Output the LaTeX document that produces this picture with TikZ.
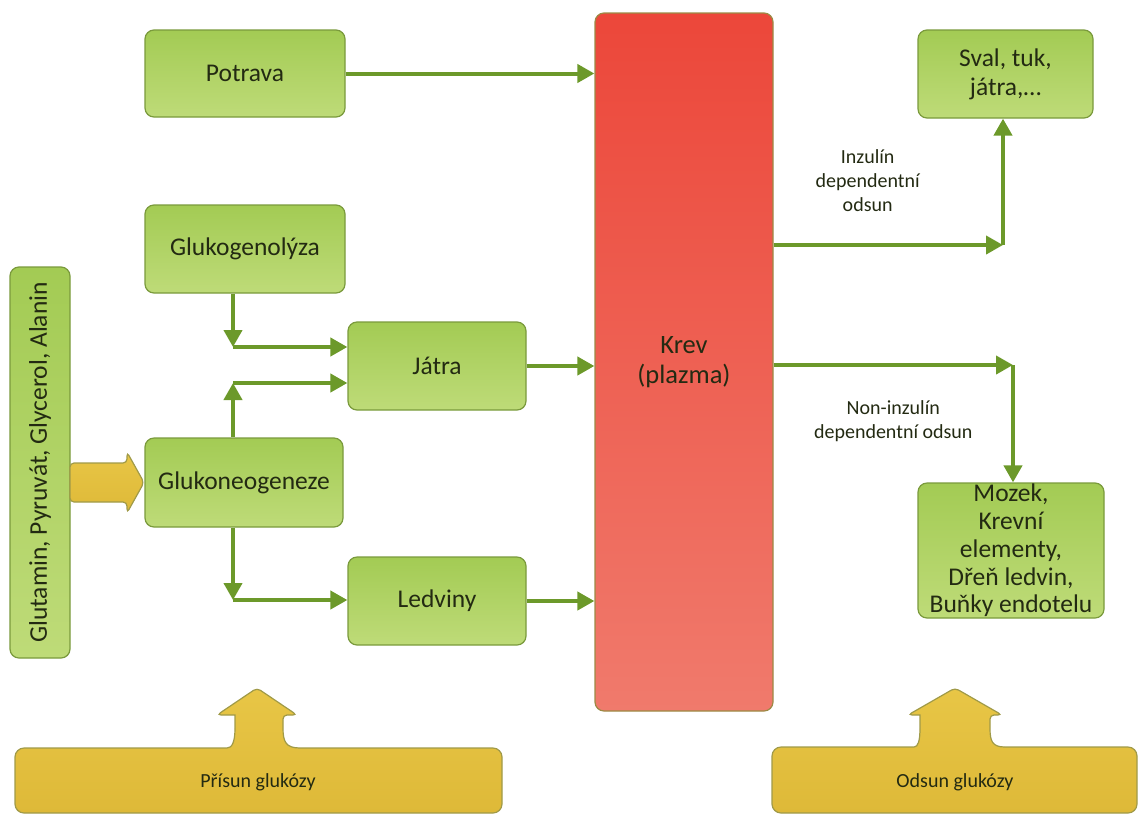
\documentclass[tikz,border=0pt]{standalone}
\usepackage{fontspec}
\setmainfont{Carlito}
\usetikzlibrary{positioning,calc,arrows.meta}

\definecolor{boxtop}{HTML}{A3CB54}
\definecolor{boxbottom}{HTML}{BEDB78}
\definecolor{boxline}{HTML}{7A9A3C}
\definecolor{flowgreen}{HTML}{6C992A}
\definecolor{krevtop}{HTML}{EC473A}
\definecolor{krevbottom}{HTML}{F07A6C}
\definecolor{krevline}{HTML}{9C8A45}
\definecolor{supplytop}{HTML}{E8C646}
\definecolor{supplybottom}{HTML}{DEB938}
\definecolor{supplyline}{HTML}{A09A48}
\definecolor{txt}{HTML}{232A12}

\begin{document}
\begin{tikzpicture}[
     x=1pt, y=-1pt,
     % define styles
     box/.style={
         draw=boxline,
         line width=1.2pt,
         rounded corners=9pt,
         top color=boxtop,
         bottom color=boxbottom,
         text=txt,
         align=center,
         inner sep=0pt,
         font=\fontsize{25.5}{29}\selectfont
     },
     krevbox/.style={
         box,
         draw=krevline,
         top color=krevtop,
         bottom color=krevbottom,
         font=\fontsize{26.5}{30}\selectfont
     },
     flow/.style={
         ->,
         draw=flowgreen,
         line width=4pt
     },
     note/.style={
         text=txt,
         align=center,
         font=\fontsize{20}{24}\selectfont
     },
     supply/.style={
         draw=supplyline,
         line width=1.2pt,
         top color=supplytop,
         bottom color=supplybottom
     },
     >={Triangle[length=17pt,width=18pt]}
]
\useasboundingbox (0,0) rectangle (1140,815);

% sources of glucose
\node[box, minimum width=200pt, minimum height=87pt] (potrava) at (245,73.5) {Potrava};
\node[box, minimum width=200pt, minimum height=88pt] (glukogenolyza) at (245,249) {Glukogenolýza};
\node[box, minimum width=178pt, minimum height=88pt] (jatra) at (437,366) {Játra};
\node[box, minimum width=198pt, minimum height=89pt] (glukoneo) at (244,482.5) {Glukoneogeneze};
\node[box, minimum width=178pt, minimum height=88pt] (ledviny) at (437,601) {Ledviny};
\node[box, rotate=90, minimum width=391pt, minimum height=60pt] (substraty) at (40,462.5) {Glutamin, Pyruvát, Glycerol, Alanin};

% blood
\node[krevbox, minimum width=178pt, minimum height=698pt] (krev) at (684,362) {Krev\\(plazma)};

% targets
\node[box, minimum width=175pt, minimum height=88pt] (sval) at (1005.5,74) {Sval, tuk,\\játra,…};
\node[box, minimum width=186pt, minimum height=135pt, font=\fontsize{25.5}{27.8}\selectfont] (mozek) at (1011,550.5)
     {Mozek,\\Krevní\\elementy,\\Dřeň ledvin,\\Buňky endotelu};

% yellow arrow into glukoneogeneze
\draw[supply, rounded corners=4pt] (70,463) -- (127,463) -- (127,452) -- (144,482.5) -- (127,513) -- (127,502) -- (70,502) -- cycle;

% corners of the bent connectors
\coordinate (kA) at (233,347);
\coordinate (kB) at (233,383);
\coordinate (kC) at (233,600);
\coordinate (kD) at (1003,245);
\coordinate (kE) at (1013,365);

\draw[flow] (potrava.east) -- (potrava.east -| krev.west);
\draw[flow] (kA |- glukogenolyza.south) -- (kA);
\draw[flow] (kA) -- (kA -| jatra.west);
\draw[flow] (kB |- glukoneo.north) -- (kB);
\draw[flow] (kB) -- (kB -| jatra.west);
\draw[flow] (kC |- glukoneo.south) -- (kC);
\draw[flow] (kC) -- (kC -| ledviny.west);
\draw[flow] (jatra.east) -- (jatra.east -| krev.west);
\draw[flow] (ledviny.east) -- (ledviny.east -| krev.west);

\draw[flow] (kD -| krev.east) -- node[note, pos=.41, above=28pt] (inzulin) {Inzulín\\dependentní\\odsun} (kD);
\draw[flow] (kD) -- (kD |- sval.south);
\draw[flow] (kE -| krev.east) -- node[note, pos=.5, below=30pt] (noninzulin) {Non-inzulín\\dependentní odsun} (kE);
\draw[flow] (kE) -- (kE |- mozek.north);

% supply and removal
\draw[supply] (15,780) [rounded corners=9pt] -- (15,748) -- (218,748) [sharp corners]
     .. controls (232,748) and (235,742) .. (235,728) -- (235,715) [rounded corners=4pt]
     -- (217,715) -- (257,688) -- (297,715) -- (283,715) [sharp corners] -- (283,728)
     .. controls (283,742) and (286,748) .. (300,748) [rounded corners=9pt]
     -- (502,748) -- (502,813) -- (15,813) -- cycle;
\node[note] (prisun) at (258,782) {Přísun glukózy};

\draw[supply] (772,780) [rounded corners=9pt] -- (772,747) -- (905,747) [sharp corners]
     .. controls (918,747) and (920,741) .. (920,728) -- (920,715) [rounded corners=4pt]
     -- (908,715) -- (955,688) -- (1002,715) -- (990,715) [sharp corners] -- (990,728)
     .. controls (990,741) and (992,747) .. (1005,747) [rounded corners=9pt]
     -- (1137,747) -- (1137,813) -- (772,813) -- cycle;
\node[note] (odsun) at (955,782) {Odsun glukózy};
\end{tikzpicture}
\end{document}
